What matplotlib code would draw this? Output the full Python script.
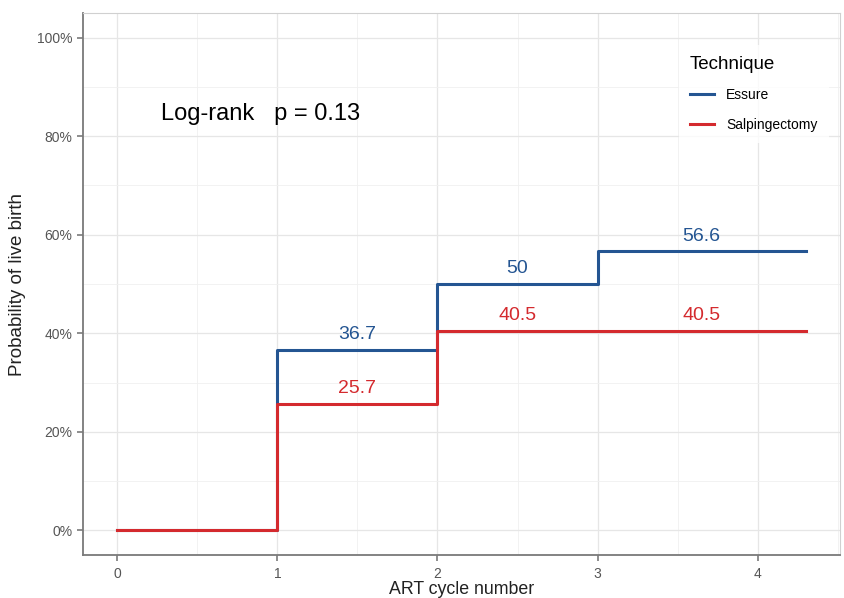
import matplotlib
matplotlib.use("Agg")
import matplotlib.pyplot as plt
from matplotlib.ticker import MultipleLocator, FuncFormatter
from matplotlib.lines import Line2D

plt.rcParams['font.family'] = ['Liberation Sans', 'DejaVu Sans']

# Data
cycles_essure = [0, 1, 2, 3, 4.3]
prob_essure = [0.0, 0.367, 0.50, 0.566, 0.566]
cycles_salp = [0, 1, 2, 3, 4.3]
prob_salp = [0.0, 0.257, 0.405, 0.405, 0.405]
labels_essure = ["36.7", "50", "56.6"]
labels_salp = ["25.7", "40.5", "40.5"]
series_names = ["Essure", "Salpingectomy"]
x_ticks = [0, 1, 2, 3, 4]
y_ticks = [0, 0.2, 0.4, 0.6, 0.8, 1.0]

blue = "#245592"
red = "#D42A2E"

fig = plt.figure(figsize=(8.45, 5.98), dpi=100)
ax = fig.add_axes([83/845, 43/598, (840-83)/845, (555-13)/598])

ax.step(cycles_essure, prob_essure, where='post', color=blue, lw=2.2, zorder=3)
ax.step(cycles_salp, prob_salp, where='post', color=red, lw=2.2, zorder=4)

# segment labels at midpoints
for i, lab in enumerate(labels_essure):
    xm = (cycles_essure[i+1] + cycles_essure[i+2]) / 2
    ax.annotate(lab, (xm, prob_essure[i+1]), xytext=(0, 11), textcoords='offset points',
                ha='center', va='center', color=blue, fontsize=14, zorder=5)
for i, lab in enumerate(labels_salp):
    xm = (cycles_salp[i+1] + cycles_salp[i+2]) / 2
    ax.annotate(lab, (xm, prob_salp[i+1]), xytext=(0, 11), textcoords='offset points',
                ha='center', va='center', color=red, fontsize=14, zorder=5)

ax.text(0.27, 0.845, "Log-rank   p = 0.13", fontsize=17, ha='left', va='center', color='black')

ax.set_xlim(-0.215, 4.515)
ax.set_ylim(-0.05, 1.05)
ax.set_xticks(x_ticks)
ax.set_yticks(y_ticks)
ax.xaxis.set_minor_locator(MultipleLocator(0.5))
ax.yaxis.set_minor_locator(MultipleLocator(0.1))
ax.yaxis.set_major_formatter(FuncFormatter(lambda v, p: f"{int(round(v*100))}%"))
ax.grid(which='major', color='#E6E6E6', lw=0.9, zorder=0)
ax.grid(which='minor', color='#F0F0F0', lw=0.6, zorder=0)
ax.set_axisbelow(True)

for s in ['top', 'right']:
    ax.spines[s].set_color('#D0D0D0')
    ax.spines[s].set_linewidth(0.8)
for s in ['left', 'bottom']:
    ax.spines[s].set_color('#7A7A7A')
    ax.spines[s].set_linewidth(1.3)

ax.tick_params(which='major', length=4, width=1.2, color='#7A7A7A', labelcolor='#555555', labelsize=10)
ax.tick_params(axis='x', which='major', pad=5)
ax.tick_params(which='minor', length=0)

ax.set_xlabel("ART cycle number", fontsize=12.8, color='#222222')
ax.xaxis.set_label_coords(0.5, -0.048)
ax.set_ylabel("Probability of live birth", fontsize=13.5, color='#222222', labelpad=8)

handles = [Line2D([0], [0], color=blue, lw=2.2), Line2D([0], [0], color=red, lw=2.2)]
leg = ax.legend(handles, series_names, title="Technique", loc='upper left',
                bbox_to_anchor=(0.778, 0.954), frameon=True, fontsize=10,
                title_fontsize=13.5, handlelength=1.7, handletextpad=0.9,
                labelspacing=1.1, borderpad=0.8)
leg.get_frame().set_edgecolor('none')
leg.get_frame().set_facecolor('white')
leg._legend_box.align = "left"

fig.savefig("out.png", dpi=100)
